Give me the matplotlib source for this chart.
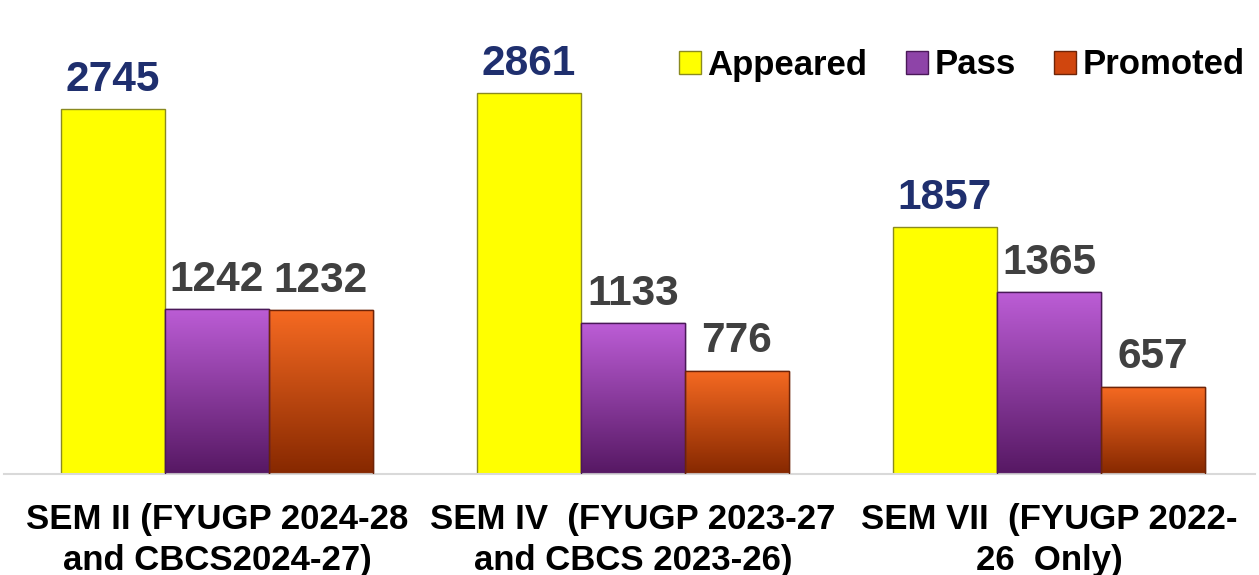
import numpy as np
import matplotlib
matplotlib.use("Agg")
import matplotlib.pyplot as plt
from matplotlib.patches import Patch
from matplotlib.colors import LinearSegmentedColormap

plt.rcParams['font.family'] = ['Liberation Sans', 'DejaVu Sans']

categories = ["SEM II (FYUGP 2024-28\nand CBCS2024-27)",
              "SEM IV  (FYUGP 2023-27\nand CBCS 2023-26)",
              "SEM VII  (FYUGP 2022-\n26  Only)"]
series = ["Appeared", "Pass", "Promoted"]
appeared = [2745, 2861, 1857]
passed = [1242, 1133, 1365]
promoted = [1232, 776, 657]

values = [appeared, passed, promoted]
# top colour, bottom colour (None = flat)
grads = [None, ("#BC5DD6", "#561863"), ("#F66A22", "#862800")]
flat = ["#FFFF00", "#8E44A8", "#D0460E"]
edges = ["#8A8A20", "#4A1858", "#6E2408"]
label_colors = ["#1F2F6E", "#404040", "#404040"]

W, H = 1259, 575
fig = plt.figure(figsize=(W / 100, H / 100), dpi=100)
base = 474
ax = fig.add_axes([4 / W, 1 - base / H, 1251 / W, base / H])
ymax = base / 0.1330
x = np.arange(len(categories))
width = 0.25

for i, vals in enumerate(values):
    pos = x + (i - 1) * width
    bars = ax.bar(pos, vals, width, color=flat[i], edgecolor=edges[i],
                  linewidth=1.0, zorder=2)
    if grads[i] is not None:
        cmap = LinearSegmentedColormap.from_list("g%d" % i, [grads[i][1], grads[i][0]])
        for b in bars:
            x0 = b.get_x()
            h = b.get_height()
            img = ax.imshow(np.linspace(0, 1, 256).reshape(-1, 1), cmap=cmap,
                            extent=(x0, x0 + width, 0, h), origin='lower',
                            aspect='auto', zorder=2.5)
            img.set_clip_path(b)
            ax.bar(x0 + width / 2, h, width, fill=False, edgecolor=edges[i],
                   linewidth=1.0, zorder=3)
    for p, v in zip(pos, vals):
        ax.text(p, v + 70, str(v), ha='center', va='bottom', fontsize=30.5,
                fontweight='bold', color=label_colors[i], zorder=4)

ax.set_xlim(-0.512, -0.512 + 1251 / 416)
ax.set_ylim(0, ymax)
for s in ['top', 'right', 'left']:
    ax.spines[s].set_visible(False)
ax.spines['bottom'].set_color('#D9D9D9')
ax.spines['bottom'].set_linewidth(1.5)
ax.set_yticks([])
ax.set_xticks(x)
ax.set_xticklabels(categories, fontsize=25, fontweight='bold', linespacing=1.3)
ax.tick_params(axis='x', length=0, pad=21)

handles = [Patch(facecolor=flat[i], edgecolor=edges[i]) for i in range(3)]
fig.legend(handles, series, loc='center right',
           bbox_to_anchor=(1245 / W, 1 - 65 / H), bbox_transform=fig.transFigure,
           ncol=3, frameon=False, borderaxespad=0, borderpad=0,
           handlelength=0.63, handleheight=0.63, handletextpad=0.2,
           columnspacing=1.1, prop={'size': 25, 'weight': 'bold'})

fig.savefig("out.png", dpi=100)
